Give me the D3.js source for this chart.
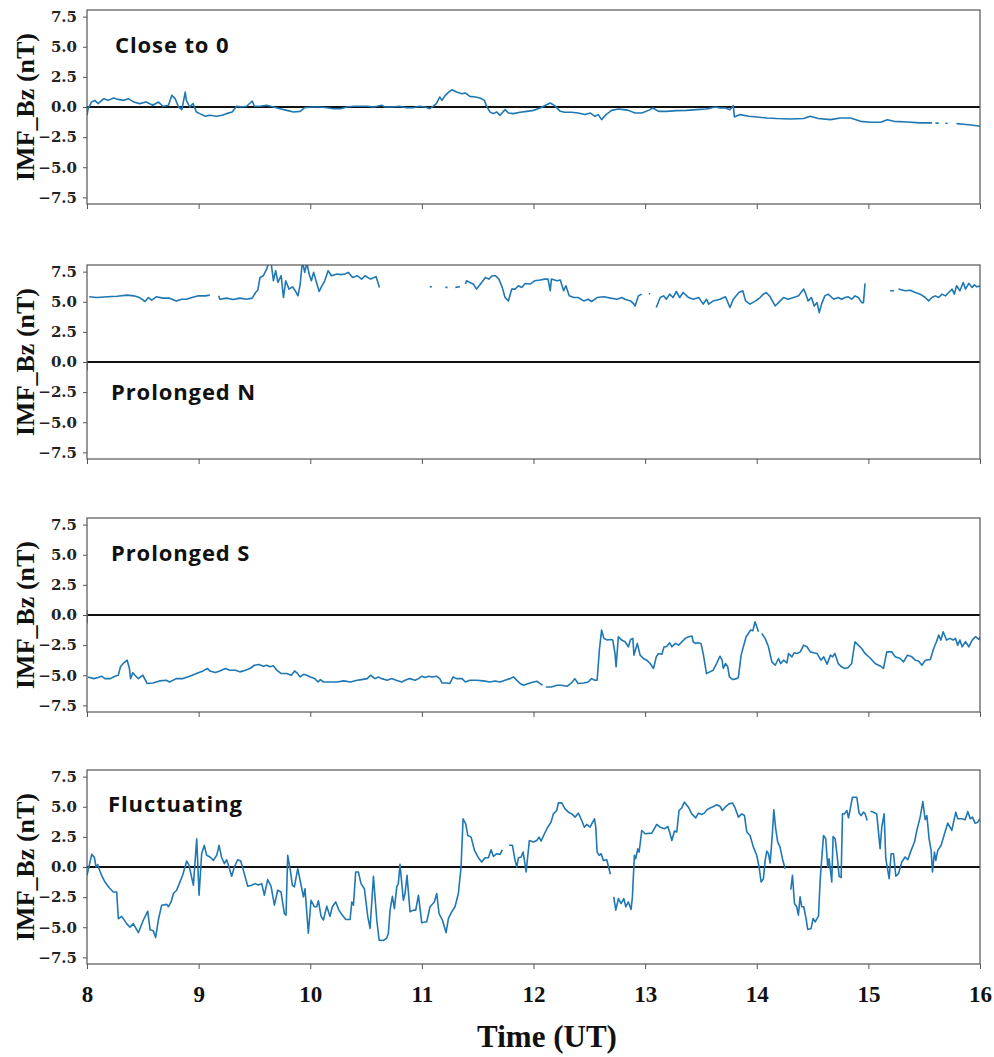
<!DOCTYPE html>
<html>
<head>
<meta charset="utf-8">
<script src="https://cdn.jsdelivr.net/npm/d3@7/dist/d3.min.js"></script>
<style>
  body { margin: 0; background: #fff; }
  .y-axis text { font-family: "DejaVu Serif"; font-weight: bold; font-size: 15px; fill: #222; }
  .x-axis text { font-family: "Liberation Serif"; font-weight: bold; font-size: 23px; fill: #111; }
  .tick line { stroke: #555; }
  .frame { fill: none; stroke: #555; stroke-width: 1.2; }
  .zero { stroke: #111; stroke-width: 2; }
  .line { fill: none; stroke: #1f77b4; stroke-width: 1.6; stroke-linejoin: round; }
  .ylabel { font-family: "Liberation Serif"; font-weight: bold; font-size: 26px; fill: #111; }
  .title { font-family: "Open Sans"; font-weight: bold; font-size: 22px; letter-spacing: 0.9px; fill: #111; }
  .xlabel { font-family: "Liberation Serif"; font-weight: bold; font-size: 31px; fill: #111; }
</style>
</head>
<body>
<div id="chart"></div>
<script>
// panel titles and shared ticks
const titles = ['Close to 0', 'Prolonged N', 'Prolonged S', 'Fluctuating'];
const xTicks = [8, 9, 10, 11, 12, 13, 14, 15, 16];
const yTicks = [-7.5, -5.0, -2.5, 0.0, 2.5, 5.0, 7.5];

// IMF Bz series, [hour UT, nT]; null marks a data gap
const closeTo0 = [[8.00,-0.69],[8.01,-0.14],[8.04,0.41],[8.07,0.55],[8.10,0.28],[8.15,0.69],[8.19,0.55],[8.24,0.74],[8.28,0.63],[8.33,0.55],[8.37,0.69],[8.42,0.41],[8.47,0.28],[8.53,0.41],[8.59,0.14],[8.64,0.41],[8.68,0.06],[8.73,0.14],[8.76,0.97],[8.79,0.69],[8.82,0.0],[8.85,-0.22],[8.88,1.24],[8.89,0.55],[8.92,0.0],[8.95,0.28],[8.98,-0.41],[9.01,-0.55],[9.06,-0.77],[9.10,-0.69],[9.16,-0.77],[9.21,-0.69],[9.25,-0.55],[9.30,-0.41],[9.34,0.06],[9.39,0.0],[9.43,0.06],[9.48,0.5],[9.50,0.06],[9.55,0.06],[9.61,0.14],[9.67,0.0],[9.73,-0.14],[9.79,-0.28],[9.85,-0.41],[9.91,-0.36],[9.95,-0.06],[10.01,0.0],[10.09,0.0],[10.15,-0.06],[10.21,-0.14],[10.27,-0.14],[10.33,0.0],[10.39,0.06],[10.45,0.06],[10.51,0.06],[10.57,0.0],[10.64,0.14],[10.67,0.0],[10.73,0.0],[10.80,0.06],[10.86,-0.06],[10.92,-0.06],[10.98,0.06],[11.03,0.0],[11.07,-0.14],[11.10,0.06],[11.13,0.28],[11.16,0.83],[11.18,0.55],[11.21,0.97],[11.24,1.24],[11.27,1.43],[11.31,1.24],[11.36,1.1],[11.39,1.16],[11.43,0.88],[11.48,0.83],[11.52,0.74],[11.56,0.55],[11.58,0.06],[11.61,-0.41],[11.64,-0.55],[11.67,-0.41],[11.70,-0.69],[11.745,-0.22],[11.775,-0.5],[11.82,-0.55],[11.88,-0.44],[11.94,-0.36],[12.0,-0.28],[12.06,-0.08],[12.10,0.11],[12.15,0.33],[12.19,0.11],[12.24,-0.36],[12.28,-0.44],[12.34,-0.44],[12.40,-0.5],[12.46,-0.63],[12.51,-0.5],[12.55,-0.77],[12.58,-0.63],[12.61,-1.05],[12.65,-0.63],[12.70,-0.28],[12.76,-0.17],[12.81,-0.22],[12.85,-0.28],[12.91,-0.5],[12.97,-0.5],[13.03,-0.28],[13.07,-0.08],[13.12,-0.36],[13.19,-0.36],[13.28,-0.3],[13.37,-0.28],[13.46,-0.22],[13.55,-0.17],[13.63,0.0],[13.67,-0.08],[13.72,-0.08],[13.76,-0.22],[13.79,0.11],[13.80,-0.83],[13.85,-0.63],[13.93,-0.77],[14.0,-0.83],[14.09,-0.91],[14.18,-0.96],[14.30,-0.99],[14.42,-0.96],[14.48,-0.77],[14.55,-0.96],[14.66,-1.05],[14.75,-0.91],[14.84,-0.91],[14.93,-1.19],[15.02,-1.27],[15.11,-1.27],[15.17,-1.05],[15.23,-1.19],[15.35,-1.24],[15.46,-1.32],[15.57,-1.32],[15.585,null],[15.60,-1.33],[15.63,-1.34],[15.65,null],[15.69,-1.35],[15.71,-1.36],[15.75,null],[15.79,-1.38],[15.85,-1.43],[15.92,-1.5],[16.0,-1.6]];

const prolongedN = [[8.0,0.0],[8.0,-0.7],[8.01,null],[8.02,5.41],[8.09,5.35],[8.18,5.41],[8.27,5.46],[8.36,5.55],[8.42,5.49],[8.47,5.35],[8.52,5.02],[8.55,5.35],[8.58,5.13],[8.62,5.41],[8.68,5.3],[8.74,5.3],[8.80,5.07],[8.85,5.21],[8.89,5.21],[8.94,5.35],[9.0,5.49],[9.06,5.49],[9.10,5.55],[9.14,null],[9.18,5.49],[9.19,5.21],[9.25,5.3],[9.31,5.18],[9.37,5.3],[9.43,5.21],[9.48,5.3],[9.51,5.77],[9.53,5.96],[9.55,7.02],[9.58,7.16],[9.61,7.72],[9.63,8.3],[9.65,8.2],[9.67,6.74],[9.69,7.58],[9.71,6.6],[9.74,7.16],[9.75,6.19],[9.76,5.35],[9.78,6.74],[9.81,6.05],[9.84,6.24],[9.87,5.85],[9.89,5.49],[9.91,6.47],[9.93,8.4],[9.95,7.44],[9.97,8.2],[9.99,7.3],[10.01,6.74],[10.03,7.44],[10.06,6.47],[10.08,5.85],[10.10,6.24],[10.13,6.74],[10.16,7.58],[10.19,7.16],[10.24,7.3],[10.27,7.25],[10.31,7.3],[10.34,7.44],[10.38,7.02],[10.42,7.16],[10.46,6.88],[10.49,7.16],[10.54,6.88],[10.57,7.02],[10.59,7.08],[10.62,6.19],[10.65,null],[11.07,6.24],[11.09,6.24],[11.12,null],[11.21,6.19],[11.23,6.19],[11.26,null],[11.30,6.19],[11.34,6.24],[11.36,null],[11.39,6.47],[11.40,6.74],[11.43,6.6],[11.46,6.47],[11.49,6.05],[11.52,6.41],[11.57,7.02],[11.60,6.88],[11.63,7.16],[11.66,7.16],[11.69,6.88],[11.72,6.19],[11.745,5.35],[11.775,5.07],[11.805,6.05],[11.835,6.05],[11.865,6.33],[11.895,6.19],[11.925,6.52],[11.97,6.47],[12.01,6.74],[12.06,6.8],[12.10,6.88],[12.13,6.88],[12.15,5.91],[12.16,6.88],[12.21,6.74],[12.24,6.8],[12.27,5.91],[12.29,6.33],[12.32,5.49],[12.36,5.35],[12.40,5.35],[12.45,5.07],[12.49,5.21],[12.52,5.02],[12.57,5.35],[12.63,5.41],[12.69,5.3],[12.75,5.21],[12.79,5.35],[12.82,5.21],[12.87,5.07],[12.90,4.8],[12.91,4.65],[12.94,5.49],[12.97,5.63],[13.0,null],[13.035,5.63],[13.045,5.7],[13.06,null],[13.10,4.52],[13.135,5.35],[13.165,5.49],[13.19,5.21],[13.22,5.63],[13.25,5.35],[13.28,5.85],[13.31,5.35],[13.34,5.77],[13.39,5.35],[13.43,5.21],[13.48,5.35],[13.52,4.8],[13.55,5.21],[13.57,4.8],[13.61,5.07],[13.67,5.21],[13.72,5.41],[13.76,4.52],[13.79,5.21],[13.84,5.77],[13.875,5.91],[13.90,5.07],[13.94,4.8],[13.99,5.07],[14.03,5.35],[14.06,5.63],[14.085,5.77],[14.12,5.41],[14.165,4.65],[14.21,5.07],[14.24,5.35],[14.28,5.21],[14.33,5.35],[14.375,5.49],[14.42,6.05],[14.44,5.63],[14.46,5.07],[14.49,5.35],[14.515,4.65],[14.54,4.93],[14.56,4.1],[14.58,4.8],[14.61,5.49],[14.64,5.63],[14.69,5.21],[14.73,5.35],[14.76,5.21],[14.79,5.35],[14.82,5.41],[14.85,5.21],[14.88,5.49],[14.91,5.35],[14.94,4.93],[14.956,4.93],[14.97,6.52],[15.0,null],[15.195,5.91],[15.23,5.91],[15.25,null],[15.27,6.05],[15.33,5.91],[15.375,5.96],[15.42,5.77],[15.464,5.63],[15.51,5.35],[15.54,5.07],[15.57,5.35],[15.60,5.49],[15.63,5.35],[15.66,5.63],[15.69,5.49],[15.72,5.77],[15.75,6.05],[15.77,5.63],[15.79,6.33],[15.82,5.91],[15.85,6.6],[15.87,6.05],[15.90,6.52],[15.93,6.19],[15.95,6.41],[15.97,6.24],[16.0,6.3]];

const prolongedS = [[8.0,0.4],[8.0,-0.7],[8.005,null],[8.01,-5.14],[8.06,-5.28],[8.10,-5.19],[8.13,-5.08],[8.16,-5.28],[8.21,-5.28],[8.25,-5.08],[8.28,-5.0],[8.30,-4.3],[8.33,-3.97],[8.36,-3.75],[8.38,-4.44],[8.39,-5.28],[8.41,-4.8],[8.43,-5.0],[8.46,-5.28],[8.50,-5.0],[8.54,-5.69],[8.59,-5.64],[8.65,-5.47],[8.71,-5.42],[8.74,-5.56],[8.80,-5.28],[8.86,-5.28],[8.92,-5.08],[8.98,-4.86],[9.04,-4.64],[9.08,-4.44],[9.10,-4.64],[9.15,-4.78],[9.19,-4.64],[9.24,-4.44],[9.28,-4.58],[9.33,-4.58],[9.37,-4.72],[9.42,-4.58],[9.46,-4.44],[9.50,-4.17],[9.54,-4.11],[9.58,-4.25],[9.61,-4.17],[9.64,-4.3],[9.67,-4.22],[9.70,-4.58],[9.74,-4.86],[9.79,-4.86],[9.83,-5.0],[9.86,-4.64],[9.88,-4.8],[9.91,-5.14],[9.94,-4.92],[9.97,-5.0],[10.0,-5.14],[10.04,-5.28],[10.07,-5.56],[10.09,-5.36],[10.12,-5.56],[10.18,-5.56],[10.24,-5.56],[10.30,-5.47],[10.36,-5.56],[10.42,-5.42],[10.46,-5.36],[10.51,-5.28],[10.54,-5.0],[10.58,-5.28],[10.61,-5.14],[10.64,-5.28],[10.69,-5.42],[10.73,-5.28],[10.77,-5.42],[10.82,-5.56],[10.85,-5.42],[10.89,-5.28],[10.94,-5.42],[10.97,-5.28],[11.0,-5.08],[11.03,-5.19],[11.06,-5.08],[11.09,-5.14],[11.13,-5.08],[11.16,-5.28],[11.18,-5.64],[11.22,-5.64],[11.25,-5.69],[11.28,-5.14],[11.31,-5.28],[11.36,-5.28],[11.39,-5.56],[11.43,-5.42],[11.49,-5.42],[11.55,-5.47],[11.61,-5.56],[11.655,-5.47],[11.70,-5.56],[11.745,-5.42],[11.79,-5.28],[11.82,-5.14],[11.845,-5.36],[11.88,-5.69],[11.91,-5.83],[11.955,-5.69],[12.0,-5.56],[12.03,-5.5],[12.06,-5.69],[12.08,-5.83],[12.095,null],[12.11,-5.97],[12.16,-5.97],[12.21,-5.83],[12.25,-5.83],[12.30,-5.92],[12.34,-5.64],[12.37,-5.28],[12.40,-5.69],[12.45,-5.64],[12.49,-5.56],[12.52,-5.28],[12.55,-5.42],[12.57,-5.42],[12.59,-2.92],[12.61,-1.25],[12.63,-1.94],[12.66,-2.08],[12.69,-2.03],[12.71,-2.08],[12.73,-3.19],[12.74,-4.3],[12.76,-1.8],[12.79,-2.08],[12.82,-2.22],[12.85,-2.64],[12.87,-2.03],[12.89,-1.94],[12.90,-3.33],[12.93,-2.36],[12.955,-3.33],[12.985,-3.61],[13.015,-3.75],[13.045,-4.03],[13.075,-4.44],[13.10,-3.47],[13.12,-3.19],[13.15,-3.25],[13.17,-2.64],[13.19,-2.64],[13.22,-2.31],[13.24,-2.64],[13.27,-2.36],[13.30,-2.5],[13.33,-2.22],[13.36,-1.94],[13.39,-1.8],[13.42,-1.75],[13.43,-2.22],[13.45,-2.36],[13.47,-2.31],[13.50,-2.36],[13.52,-3.19],[13.55,-4.86],[13.58,-4.72],[13.61,-4.58],[13.64,-4.03],[13.67,-3.42],[13.69,-3.75],[13.70,-4.44],[13.72,-4.03],[13.74,-4.3],[13.755,-5.14],[13.785,-5.36],[13.82,-5.28],[13.835,-5.19],[13.86,-3.33],[13.88,-2.64],[13.905,-1.8],[13.925,-1.53],[13.945,-1.25],[13.965,-1.31],[13.985,-0.56],[14.015,-1.39],[14.03,null],[14.045,-1.53],[14.075,-1.94],[14.105,-2.64],[14.135,-3.89],[14.165,-4.17],[14.195,-3.61],[14.215,-4.03],[14.24,-3.75],[14.27,-3.97],[14.285,-3.19],[14.315,-3.47],[14.335,-3.14],[14.36,-3.19],[14.39,-3.06],[14.42,-2.5],[14.45,-2.64],[14.48,-3.06],[14.51,-3.14],[14.54,-3.19],[14.575,-3.75],[14.60,-3.47],[14.63,-4.08],[14.66,-3.33],[14.68,-3.47],[14.70,-3.19],[14.73,-4.03],[14.76,-4.3],[14.79,-4.44],[14.82,-4.36],[14.85,-4.03],[14.88,-2.22],[14.91,-2.5],[14.94,-2.78],[14.97,-3.19],[15.02,-3.61],[15.06,-4.03],[15.11,-4.25],[15.135,-4.44],[15.165,-3.06],[15.21,-3.06],[15.24,-3.47],[15.285,-3.61],[15.315,-3.89],[15.35,-3.33],[15.39,-3.47],[15.42,-3.75],[15.45,-3.81],[15.48,-4.17],[15.51,-3.75],[15.555,-3.69],[15.585,-2.78],[15.61,-2.22],[15.63,-1.67],[15.65,-2.08],[15.67,-1.39],[15.70,-2.08],[15.73,-1.94],[15.76,-2.08],[15.78,-1.94],[15.80,-2.5],[15.82,-2.08],[15.84,-2.64],[15.87,-2.22],[15.90,-2.64],[15.93,-2.08],[15.96,-1.8],[15.99,-2.03],[16.0,-1.8]];

const fluctuating = [[8.0,-0.7],[8.042,1.05],[8.066,0.8],[8.081,0.0],[8.096,0.2],[8.108,-0.15],[8.131,-0.7],[8.161,-1.25],[8.197,-1.7],[8.236,-2.07],[8.266,-2.07],[8.281,-4.3],[8.311,-4.1],[8.355,-4.7],[8.385,-5.0],[8.415,-4.7],[8.46,-5.45],[8.505,-4.4],[8.544,-3.67],[8.565,-5.2],[8.594,-5.3],[8.615,-5.85],[8.639,-4.4],[8.669,-3.17],[8.714,-3.1],[8.729,-3.3],[8.753,-2.9],[8.774,-2.2],[8.803,-1.93],[8.827,-1.38],[8.857,-0.69],[8.893,0.5],[8.914,0.14],[8.953,-1.5],[8.983,2.34],[9.004,-2.34],[9.027,1.1],[9.051,1.8],[9.072,0.97],[9.102,0.83],[9.132,0.55],[9.162,0.97],[9.183,1.8],[9.207,0.77],[9.231,0.28],[9.251,0.6],[9.272,0.0],[9.296,-0.77],[9.32,0.0],[9.35,0.6],[9.377,0.5],[9.401,-0.28],[9.44,-1.6],[9.476,-1.52],[9.505,-1.38],[9.535,-1.5],[9.565,-1.38],[9.589,-2.34],[9.619,-1.05],[9.649,-1.6],[9.679,-3.17],[9.708,-1.93],[9.738,-2.07],[9.768,-3.86],[9.783,-4.0],[9.798,0.97],[9.819,-0.14],[9.84,-1.52],[9.858,-1.65],[9.888,-0.14],[9.909,-1.1],[9.939,-2.48],[9.953,-1.8],[9.983,-5.5],[10.007,-2.76],[10.037,-3.3],[10.058,-3.3],[10.073,-2.8],[10.097,-4.1],[10.118,-4.4],[10.148,-3.25],[10.177,-4.1],[10.198,-3.3],[10.228,-2.9],[10.258,-3.6],[10.288,-4.0],[10.318,-4.36],[10.357,-4.36],[10.372,-2.9],[10.387,-3.17],[10.407,-0.41],[10.431,-0.41],[10.455,-1.38],[10.485,-1.8],[10.515,-4.1],[10.536,-5.1],[10.566,-0.77],[10.596,-4.4],[10.617,-6.07],[10.655,-6.1],[10.685,-5.9],[10.70,-5.5],[10.715,-3.58],[10.736,-2.43],[10.754,-3.45],[10.775,-1.65],[10.789,-1.38],[10.804,0.22],[10.834,-2.76],[10.849,-2.2],[10.867,-0.69],[10.894,-3.72],[10.924,-3.58],[10.945,-3.58],[10.969,-2.34],[10.999,-4.63],[11.043,-4.55],[11.073,-3.3],[11.112,-2.9],[11.133,-2.2],[11.154,-3.86],[11.184,-4.4],[11.217,-5.45],[11.238,-4.27],[11.267,-3.72],[11.297,-3.3],[11.327,-2.2],[11.351,0.0],[11.369,4.0],[11.393,3.58],[11.411,2.62],[11.441,2.48],[11.471,1.38],[11.506,0.77],[11.536,0.41],[11.566,0.77],[11.596,0.77],[11.62,1.43],[11.641,0.88],[11.671,1.1],[11.70,1.05],[11.721,1.43],[11.75,null],[11.781,1.8],[11.811,1.8],[11.835,0.55],[11.85,0.0],[11.865,0.77],[11.889,0.83],[11.907,1.24],[11.919,0.55],[11.934,-0.41],[11.963,2.2],[11.999,2.07],[12.029,2.2],[12.05,2.48],[12.068,2.15],[12.098,2.76],[12.128,3.3],[12.157,3.72],[12.178,4.41],[12.208,4.69],[12.223,5.32],[12.253,5.32],[12.283,4.82],[12.313,4.55],[12.343,4.41],[12.373,4.14],[12.402,4.47],[12.432,3.86],[12.456,3.3],[12.477,3.53],[12.507,3.3],[12.522,3.58],[12.546,4.0],[12.558,3.3],[12.57,1.24],[12.588,0.97],[12.606,1.1],[12.626,0.55],[12.656,0.6],[12.689,-0.6],[12.70,null],[12.719,-2.48],[12.737,-3.58],[12.761,-2.62],[12.785,-3.03],[12.809,-2.62],[12.827,-3.3],[12.85,-2.9],[12.874,-3.53],[12.886,-2.48],[12.904,0.97],[12.916,0.69],[12.934,1.5],[12.946,1.24],[12.97,3.03],[13.0,2.76],[13.06,2.81],[13.104,3.53],[13.134,3.3],[13.173,3.17],[13.203,3.36],[13.224,2.76],[13.239,2.2],[13.263,2.98],[13.283,2.9],[13.304,4.69],[13.328,4.9],[13.352,5.38],[13.388,4.96],[13.418,4.41],[13.454,4.08],[13.477,4.47],[13.507,4.36],[13.531,4.47],[13.552,4.74],[13.582,4.9],[13.612,5.02],[13.642,5.16],[13.672,5.02],[13.692,4.69],[13.722,5.02],[13.752,5.24],[13.782,5.32],[13.806,4.9],[13.836,4.14],[13.866,4.41],[13.89,4.27],[13.911,2.9],[13.94,2.62],[13.97,1.65],[14.0,0.97],[14.021,0.0],[14.039,-1.24],[14.06,-0.97],[14.075,0.55],[14.09,1.32],[14.105,1.1],[14.12,0.33],[14.141,2.9],[14.153,4.74],[14.17,3.17],[14.188,2.07],[14.209,1.65],[14.23,0.69],[14.254,-0.14],[14.28,null],[14.305,-1.87],[14.32,-0.69],[14.338,-3.03],[14.358,-3.3],[14.373,-4.0],[14.388,-2.48],[14.403,-3.3],[14.421,-3.3],[14.439,-4.14],[14.457,-5.18],[14.487,-5.1],[14.505,-4.27],[14.523,-4.55],[14.553,-4.08],[14.568,-1.1],[14.583,0.77],[14.598,2.62],[14.618,2.34],[14.636,0.0],[14.648,0.69],[14.66,-0.28],[14.672,-1.24],[14.684,2.53],[14.702,2.34],[14.72,0.97],[14.738,-0.77],[14.756,-0.88],[14.768,4.41],[14.786,4.41],[14.807,4.69],[14.822,4.08],[14.836,4.74],[14.857,5.79],[14.896,5.79],[14.917,4.47],[14.935,4.27],[14.956,4.55],[14.971,4.41],[14.989,3.86],[15.0,null],[15.019,4.63],[15.046,4.55],[15.075,4.41],[15.105,1.52],[15.12,3.3],[15.141,4.41],[15.156,0.69],[15.174,-0.28],[15.186,-0.97],[15.204,1.1],[15.225,1.1],[15.246,-0.77],[15.27,-0.55],[15.299,0.41],[15.329,0.83],[15.353,0.6],[15.383,1.38],[15.413,2.07],[15.434,3.03],[15.464,4.14],[15.488,5.43],[15.509,3.92],[15.524,4.27],[15.544,2.34],[15.562,1.38],[15.574,-0.41],[15.592,1.24],[15.604,0.55],[15.622,1.38],[15.652,1.8],[15.682,2.76],[15.711,3.64],[15.732,3.3],[15.747,3.03],[15.783,4.55],[15.801,4.0],[15.837,4.0],[15.867,3.92],[15.891,4.6],[15.912,4.0],[15.932,4.14],[15.956,3.64],[15.98,3.72],[16.0,4.0]];

const series = [closeTo0, prolongedN, prolongedS, fluctuating];

// layout
const width = 994, height = 1057;
const left = 87, plotW = 893, plotH = 194;
const panelTops = [10, 265, 518, 770];
// title placement: [x, y offset from panel top]
const titlePos = [[115, 43], [111, 135], [111, 43], [108, 42]];

const svg = d3.select('#chart').append('svg')
  .attr('width', width)
  .attr('height', height);

const x = d3.scaleLinear().domain([8, 16]).range([0, plotW]);
const y = d3.scaleLinear().domain([-8.05, 8.05]).range([plotH, 0]);

const line = d3.line()
  .defined((d) => d[1] !== null)
  .x((d) => x(d[0]))
  .y((d) => y(d[1]));

series.forEach((data, i) => {
  const g = svg.append('g').attr('transform', `translate(${left},${panelTops[i]})`);

  g.append('clipPath').attr('id', `clip${i}`)
    .append('rect').attr('width', plotW).attr('height', plotH);

  // y axis
  g.append('g')
    .attr('class', 'y-axis')
    .call(d3.axisLeft(y).tickValues(yTicks).tickFormat(d3.format('.1f')).tickSize(4).tickPadding(6))
    .call((a) => a.select('.domain').remove());

  // x axis, labels only on the bottom panel
  const xAxis = d3.axisBottom(x).tickValues(xTicks).tickSize(5).tickPadding(17)
    .tickFormat(i === 3 ? d3.format('d') : '');
  g.append('g')
    .attr('class', 'x-axis')
    .attr('transform', `translate(0,${plotH})`)
    .call(xAxis)
    .call((a) => a.select('.domain').remove());

  // zero reference line
  g.append('line').attr('class', 'zero')
    .attr('x1', 0).attr('x2', plotW)
    .attr('y1', y(0)).attr('y2', y(0));

  // data
  g.append('path').datum(data)
    .attr('class', 'line')
    .attr('clip-path', `url(#clip${i})`)
    .attr('d', line);

  g.append('rect').attr('class', 'frame').attr('width', plotW).attr('height', plotH);

  g.append('text').attr('class', 'ylabel')
    .attr('transform', `translate(${34 - left},${plotH / 2}) rotate(-90)`)
    .attr('text-anchor', 'middle')
    .text('IMF_Bz (nT)');

  g.append('text').attr('class', 'title')
    .attr('x', titlePos[i][0] - left)
    .attr('y', titlePos[i][1])
    .text(titles[i]);
});

svg.append('text').attr('class', 'xlabel')
  .attr('x', 547).attr('y', 1047)
  .attr('text-anchor', 'middle')
  .text('Time (UT)');
</script>
</body>
</html>
